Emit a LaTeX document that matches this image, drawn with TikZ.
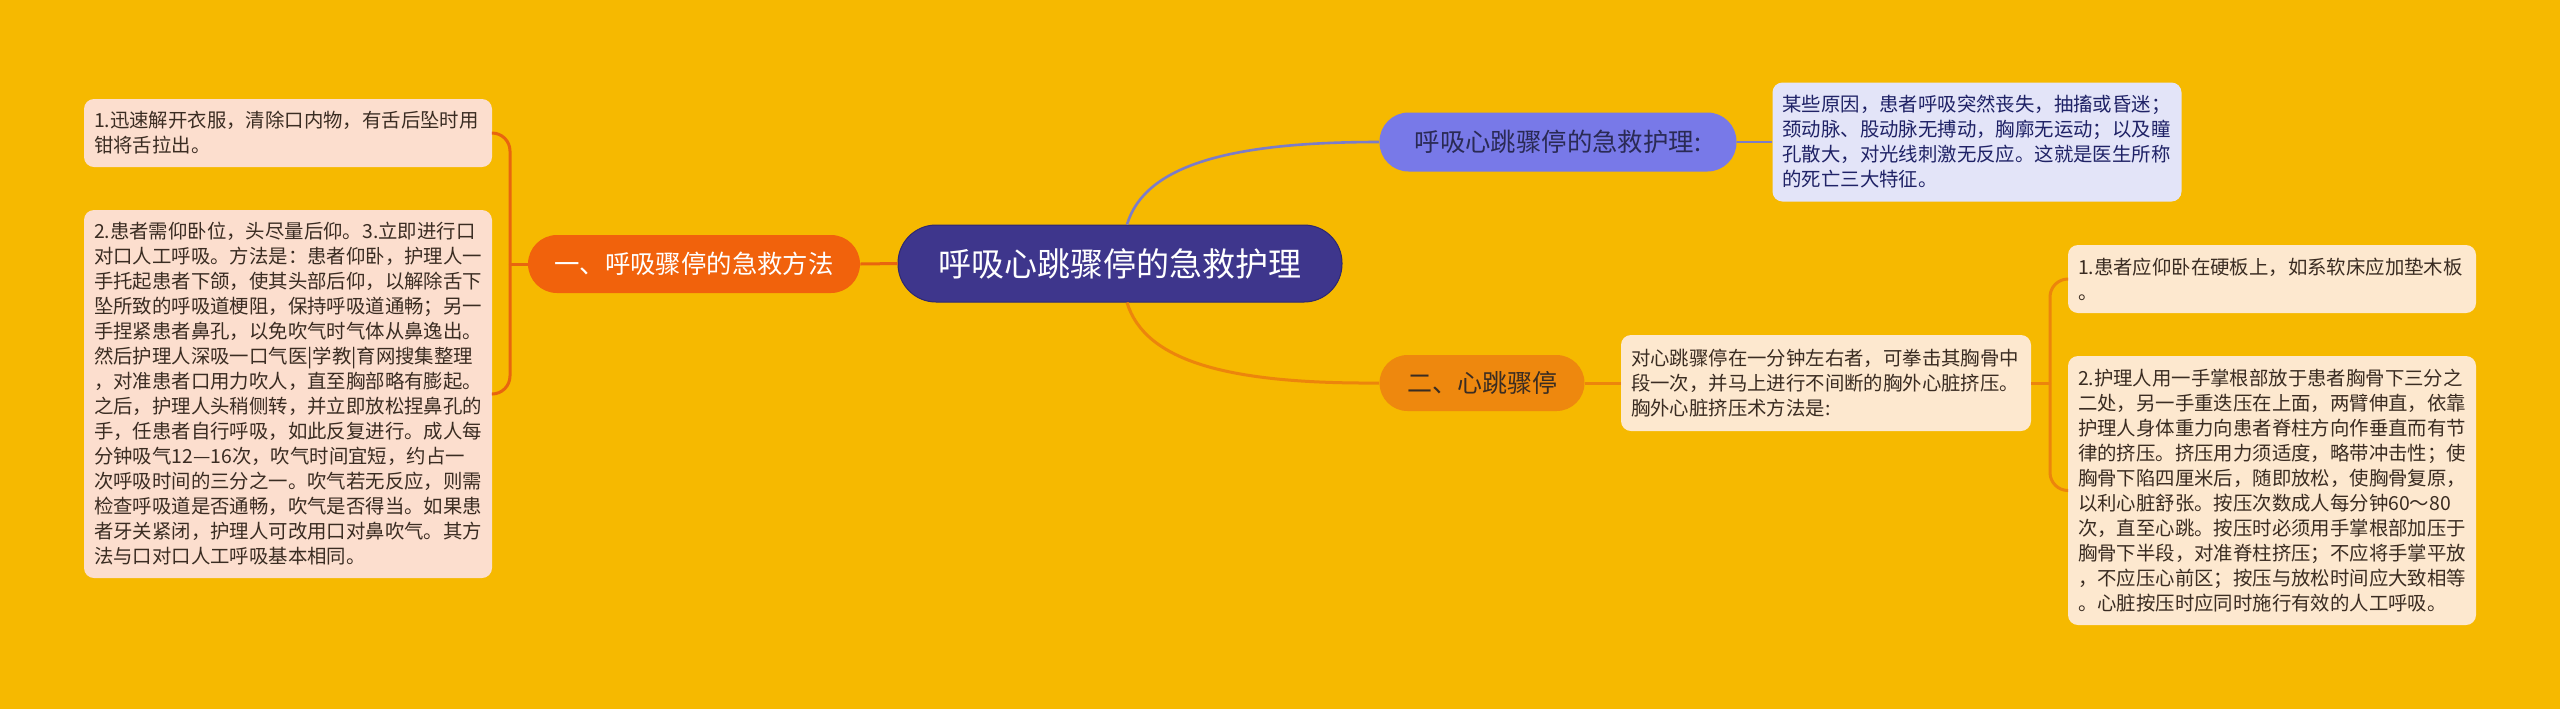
\documentclass[tikz,border=0pt]{standalone}
\usepackage{fontspec}
\setmainfont{Noto Sans CJK SC}
\definecolor{bg}{HTML}{F6B900}
\definecolor{rootc}{HTML}{3E368C}
\definecolor{rootd}{HTML}{2E2870}
\definecolor{onec}{HTML}{F1620C}
\definecolor{lbox}{HTML}{FCDECE}
\definecolor{lconnc}{HTML}{E8650F}
\definecolor{pnode}{HTML}{7879E8}
\definecolor{ptxt}{HTML}{2A2A55}
\definecolor{pbox}{HTML}{E3E4F8}
\definecolor{pboxt}{HTML}{1F2266}
\definecolor{pconnc}{HTML}{7C7CC8}
\definecolor{twoc}{HTML}{EE880E}
\definecolor{cbox}{HTML}{FDE8CF}
\definecolor{rconnc}{HTML}{EC850C}
\definecolor{txt}{HTML}{3A2C22}
\begin{document}
\begin{tikzpicture}[x=0.5pt,y=-0.5pt,
  box/.style={rounded corners=5pt, inner xsep=5pt, inner ysep=0pt, align=left,
    font=\fontsize{9.7pt}{12.5pt}\selectfont, text=txt},
  pill/.style={inner sep=0pt, align=center},
  lconn/.style={draw=lconnc, line width=1.5pt},
  rconn/.style={draw=rconnc, line width=1.5pt},
  pconn/.style={draw=pconnc, line width=1.3pt}]
\fill[bg] (0,0) rectangle (2560,709);
\useasboundingbox (0,0) rectangle (2560,709);

% root
\node[pill, fill=rootc, draw=rootd, line width=0.5pt, rounded corners=19pt,
  minimum width=222pt, minimum height=38.5pt, text=white,
  font=\fontsize{16.5pt}{20pt}\selectfont] (root) at (1120,263.5) {呼吸心跳骤停的急救护理};

% left branch
\node[pill, fill=onec, rounded corners=14.5pt, minimum width=166pt, minimum height=29pt,
  text=white, font=\fontsize{12.7pt}{15pt}\selectfont] (n1) at (694,264) {一、呼吸骤停的急救方法};

\node[box, fill=lbox, text width=194pt, minimum height=34pt] (L1) at (288,133)
{1.迅速解开衣服，清除口内物，有舌后坠时用\\钳将舌拉出。};

\node[box, fill=lbox, text width=194pt, minimum height=184pt] (L2) at (288,394)
{2.患者需仰卧位，头尽量后仰。3.立即进行口\\
对口人工呼吸。方法是：患者仰卧，护理人一\\
手托起患者下颌，使其头部后仰，以解除舌下\\
坠所致的呼吸道梗阻，保持呼吸道通畅；另一\\
手捏紧患者鼻孔，以免吹气时气体从鼻逸出。\\
然后护理人深吸一口气医|学教|育网搜集整理\\
，对准患者口用力吹人，直至胸部略有膨起。\\
之后，护理人头稍侧转，并立即放松捏鼻孔的\\
手，任患者自行呼吸，如此反复进行。成人每\\
分钟吸气12—16次，吹气时间宜短，约占一\\
次呼吸时间的三分之一。吹气若无反应，则需\\
检查呼吸道是否通畅，吹气是否得当。如果患\\
者牙关紧闭，护理人可改用口对鼻吹气。其方\\
法与口对口人工呼吸基本相同。};

% right upper branch
\node[pill, fill=pnode, rounded corners=14.5pt, minimum width=178.5pt, minimum height=29.5pt,
  text=ptxt, font=\fontsize{12.7pt}{15pt}\selectfont] (P) at (1558,142) {呼吸心跳骤停的急救护理:};

\node[box, fill=pbox, text=pboxt, text width=194.5pt, minimum height=59.5pt] (PB) at (1977,142)
{某些原因，患者呼吸突然丧失，抽搐或昏迷；\\
颈动脉、股动脉无搏动，胸廓无运动；以及瞳\\
孔散大，对光线刺激无反应。这就是医生所称\\
的死亡三大特征。};

% right lower branch
\node[pill, fill=twoc, rounded corners=14pt, minimum width=102.5pt, minimum height=28pt,
  text=txt, font=\fontsize{12.5pt}{15pt}\selectfont] (n2) at (1482,383) {二、心跳骤停};

\node[box, fill=cbox, text width=195pt, minimum height=48pt] (B2) at (1826,383)
{对心跳骤停在一分钟左右者，可拳击其胸骨中\\
段一次，并马上进行不间断的胸外心脏挤压。\\
胸外心脏挤压术方法是:};

\node[box, fill=cbox, text width=194pt, minimum height=34pt] (R1) at (2272,279)
{1.患者应仰卧在硬板上，如系软床应加垫木板\\。};

\node[box, fill=cbox, text width=194pt, minimum height=134.5pt] (R2) at (2272,490.5)
{2.护理人用一手掌根部放于患者胸骨下三分之\\
二处，另一手重迭压在上面，两臂伸直，依靠\\
护理人身体重力向患者脊柱方向作垂直而有节\\
律的挤压。挤压用力须适度，略带冲击性；使\\
胸骨下陷四厘米后，随即放松，使胸骨复原，\\
以利心脏舒张。按压次数成人每分钟60～80\\
次，直至心跳。按压时必须用手掌根部加压于\\
胸骨下半段，对准脊柱挤压；不应将手掌平放\\
，不应压心前区；按压与放松时间应大致相等\\
。心脏按压时应同时施行有效的人工呼吸。};

% connectors
\coordinate (lj) at (510,264);
\coordinate (rj) at (2050,383);
\draw[lconn] (root.west) -- (n1.east);
\draw[lconn] (n1.west) -- (lj);
\draw[lconn, rounded corners=9pt] (L1.east) -| (lj);
\draw[lconn, rounded corners=9pt] (L2.east) -| (lj);

\draw[pconn] ([xshift=3.5pt]root.north) .. controls (1145,165) and (1230,142) .. (P.west);
\draw[pconn] (P.east) -- (PB.west);

\draw[rconn] ([xshift=3.5pt]root.south) .. controls (1145,362) and (1230,384) .. (n2.west);
\draw[rconn] (n2.east) -- (B2.west);
\draw[rconn] (B2.east) -- (rj);
\draw[rconn, rounded corners=9pt] (R1.west) -| (rj);
\draw[rconn, rounded corners=9pt] (R2.west) -| (rj);
\end{tikzpicture}
\end{document}
